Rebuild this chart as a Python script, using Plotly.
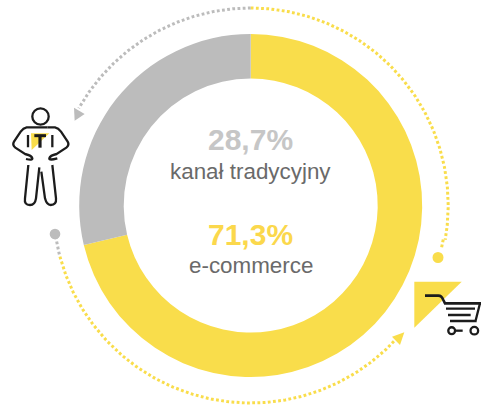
import numpy as np
import plotly.graph_objects as go

# Data
categories = ["e-commerce", "kanał tradycyjny"]
values = [71.3, 28.7]
labels = ["71,3%", "28,7%"]

YELLOW = "#f9dd4b"
GREY = "#bcbcbc"
INK = "#1c1c1c"
W, H = 481, 407
CX, CY, R = 250.7, 205.5, 171.5
AR = 197.5


def arc(a0, a1, radius=AR):
    t = np.radians(np.linspace(a0, a1, 160))
    return CX + radius * np.sin(t), CY - radius * np.cos(t)


fig = go.Figure()
fig.add_trace(go.Pie(
    labels=categories, values=values, hole=127 / 171.5, sort=False,
    direction="clockwise", rotation=0, textinfo="none", hoverinfo="label+percent",
    marker=dict(colors=[YELLOW, GREY], line=dict(width=0)), showlegend=False,
    domain=dict(x=[(CX - R) / W, (CX + R) / W], y=[1 - (CY + R) / H, 1 - (CY - R) / H]),
))

# dotted guide arcs: (start angle, end angle, colour, radius)
for a0, a1, c, rad in [(0, 100, YELLOW, 197.5), (100, 103, YELLOW, 195.5), (360, 299.5, GREY, 197.5),
                       (261, 255, GREY, 197.5), (255, 132, YELLOW, 197.5)]:
    x, y = arc(a0, a1, rad)
    fig.add_trace(go.Scatter(x=x, y=y, mode="lines", showlegend=False, hoverinfo="skip",
                             line=dict(color=c, width=3, dash="2.8px,2.4px")))


def zoom1(s):
    """icon paths drawn in crop units of the left icon"""
    out = []
    for tok in s.split():
        if "," in tok:
            a, b = tok.split(",")
            out.append(f"{float(a)/3:.2f},{90+float(b)/3:.2f}")
        else:
            out.append(tok)
    return " ".join(out)


def zoom2(s):
    out = []
    for tok in s.split():
        if "," in tok:
            a, b = tok.split(",")
            out.append(f"{380+float(a)/3:.2f},{240+float(b)/3:.2f}")
        else:
            out.append(tok)
    return " ".join(out)


shapes = []


def add_path(p, stroke=None, fill=None, w=2.3):
    shapes.append(dict(type="path", path=p, xref="x", yref="y", layer="above",
                       fillcolor=fill if fill else "rgba(0,0,0,0)",
                       line=dict(color=stroke if stroke else "rgba(0,0,0,0)", width=w if stroke else 0)))


def add_circle(cx, cy, r, stroke=None, fill=None, w=2.3):
    shapes.append(dict(type="circle", xref="x", yref="y", x0=cx - r, x1=cx + r, y0=cy - r, y1=cy + r,
                       layer="above", fillcolor=fill if fill else "rgba(0,0,0,0)",
                       line=dict(color=stroke if stroke else "rgba(0,0,0,0)", width=w if stroke else 0)))


# arrowheads and end dots
add_path(zoom1("M 222,53 L 254,72 L 224,92 Z"), fill=GREY)
add_circle(55, 234, 5.3, fill=GREY)
add_circle(438, 257.5, 5.5, fill=YELLOW)
add_path(zoom2("M 73,277 L 36,290 L 60,315 Z"), fill=YELLOW)

# person icon
add_path(zoom1("M 93,130 L 148,130 L 95,180 Z"), fill=YELLOW)
add_circle(40.5, 116.5, 8.2, stroke=INK)
add_path(zoom1("M 103,137 L 138,137"), stroke=INK, w=3)
add_path(zoom1("M 120,137 L 120,173"), stroke=INK, w=3.2)
add_path(zoom1("M 103,112 L 142,112 M 103,112 L 80,112 Q 70,114 62,125 L 42,155 Q 36,165 46,173 "
               "L 75,192 Q 95,196 97,205 Q 98,212 78,207"), stroke=INK)
add_path(zoom1("M 142,112 L 165,112 Q 175,114 183,125 L 203,155 Q 209,165 199,173 "
               "L 170,192 Q 150,196 148,205 Q 147,212 172,205"), stroke=INK)
add_path(zoom1("M 84,135 L 84,172 M 157,135 L 157,172"), stroke=INK)
add_path(zoom1("M 85,225 L 75,325 Q 72,345 90,345 Q 105,345 108,325 L 118,232"), stroke=INK)
add_path(zoom1("M 124,245 L 135,325 Q 140,345 152,345 Q 170,345 168,325 L 157,225"), stroke=INK)

# basket icon
add_path(zoom2("M 103,125 L 245,125 L 103,263 Z"), fill=YELLOW)
add_path(zoom2("M 135,167 L 175,167 Q 185,167 190,180 L 195,190 L 303,190"), stroke=INK, w=2.6)
add_path(zoom2("M 198,206 L 285,206 M 204,225 L 272,225 M 210,243 L 290,243 M 300,190 L 286,245"), stroke=INK, w=2.3)
add_circle(380 + 215 / 3, 240 + 272 / 3, 3.4, stroke=INK, w=2.3)
add_circle(380 + 283 / 3, 240 + 272 / 3, 3.8, stroke=INK, w=2.3)
add_path(zoom2("M 225,272 L 248,272"), stroke=INK, w=2.3)

# centre texts
texts = [
    (labels[1], 139, 30, "#c6c6c6", True),
    (categories[1], 171, 22.4, "#6a6a6a", False),
    (labels[0], 234, 30, "#fbd84c", True),
    (categories[0], 265, 22.4, "#6a6a6a", False),
]
annotations = [dict(x=CX, y=y, xref="x", yref="y", text=f"<b>{t}</b>" if b else t, showarrow=False,
                    xanchor="center", yanchor="middle",
                    font=dict(family="Liberation Sans", size=s, color=c))
               for t, y, s, c, b in texts]

fig.update_layout(
    width=W, height=H, margin=dict(l=0, r=0, t=0, b=0), autosize=False,
    paper_bgcolor="white", plot_bgcolor="white", showlegend=False,
    xaxis=dict(range=[0, W], visible=False, fixedrange=True),
    yaxis=dict(range=[H, 0], visible=False, fixedrange=True),
    shapes=shapes, annotations=annotations,
)
fig.write_html("out.html", config={"displayModeBar": False},
               post_script="document.body.style.margin='0';document.documentElement.style.overflow='hidden';")
